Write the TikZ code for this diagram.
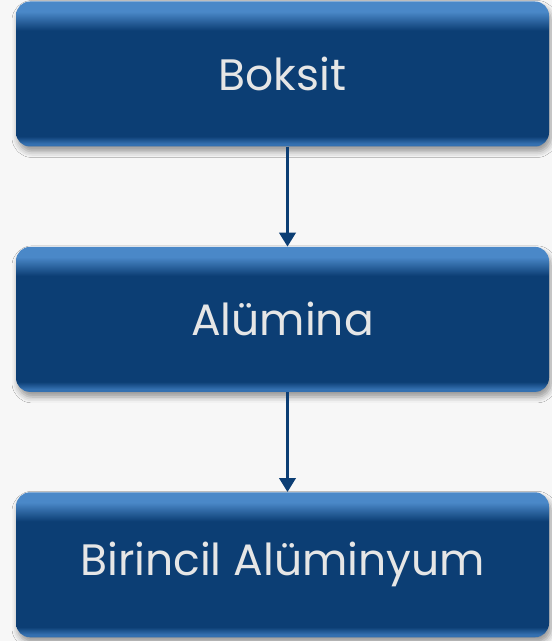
\documentclass[tikz,border=0pt]{standalone}
\usepackage{fontspec}
\setmainfont{Poppins}
\usetikzlibrary{arrows.meta,positioning,shadows.blur}
\definecolor{kutumavi}{HTML}{0C3E74}
\definecolor{parlak}{HTML}{4A88C8}
\definecolor{kenar}{HTML}{3470B0}
\definecolor{zemin}{HTML}{F7F7F7}
\definecolor{yazi}{HTML}{E6E6E6}
\pgfdeclareverticalshading{kutugolge}{100bp}{color(0bp)=(kenar);
    color(26bp)=(kenar); color(28.5bp)=(kutumavi); color(65bp)=(kutumavi);
    color(71.5bp)=(parlak); color(100bp)=(parlak)}

\begin{document}
\begin{tikzpicture}[x=1pt,y=1pt,node distance=100pt,
        kutu/.style={rectangle,rounded corners=14pt,shading=kutugolge,
            minimum width=533pt,minimum height=145pt,inner sep=0pt,
            text=yazi,font=\fontsize{44}{48}\selectfont,
            blur shadow={shadow xshift=2pt,shadow yshift=-5pt,
                shadow blur radius=6pt,shadow opacity=40}},
        ok/.style={-{Triangle[length=14pt,width=16pt]},line width=3.6pt,draw=kutumavi}]
        \fill[zemin] (0,0) rectangle (552,641);
        \useasboundingbox (0,0) rectangle (552,641);
        \node[kutu] (boksit) at (282.5,567) {Boksit};
        \node[kutu,below=of boksit] (alumina) {Alümina};
        \node[kutu,below=of alumina] (birincil) {Birincil Alüminyum};
        % oklar
        \draw[ok] ([xshift=5pt]boksit.south) -- ([xshift=5pt]alumina.north);
        \draw[ok] ([xshift=5pt]alumina.south) -- ([xshift=5pt]birincil.north);
\end{tikzpicture}
\end{document}
